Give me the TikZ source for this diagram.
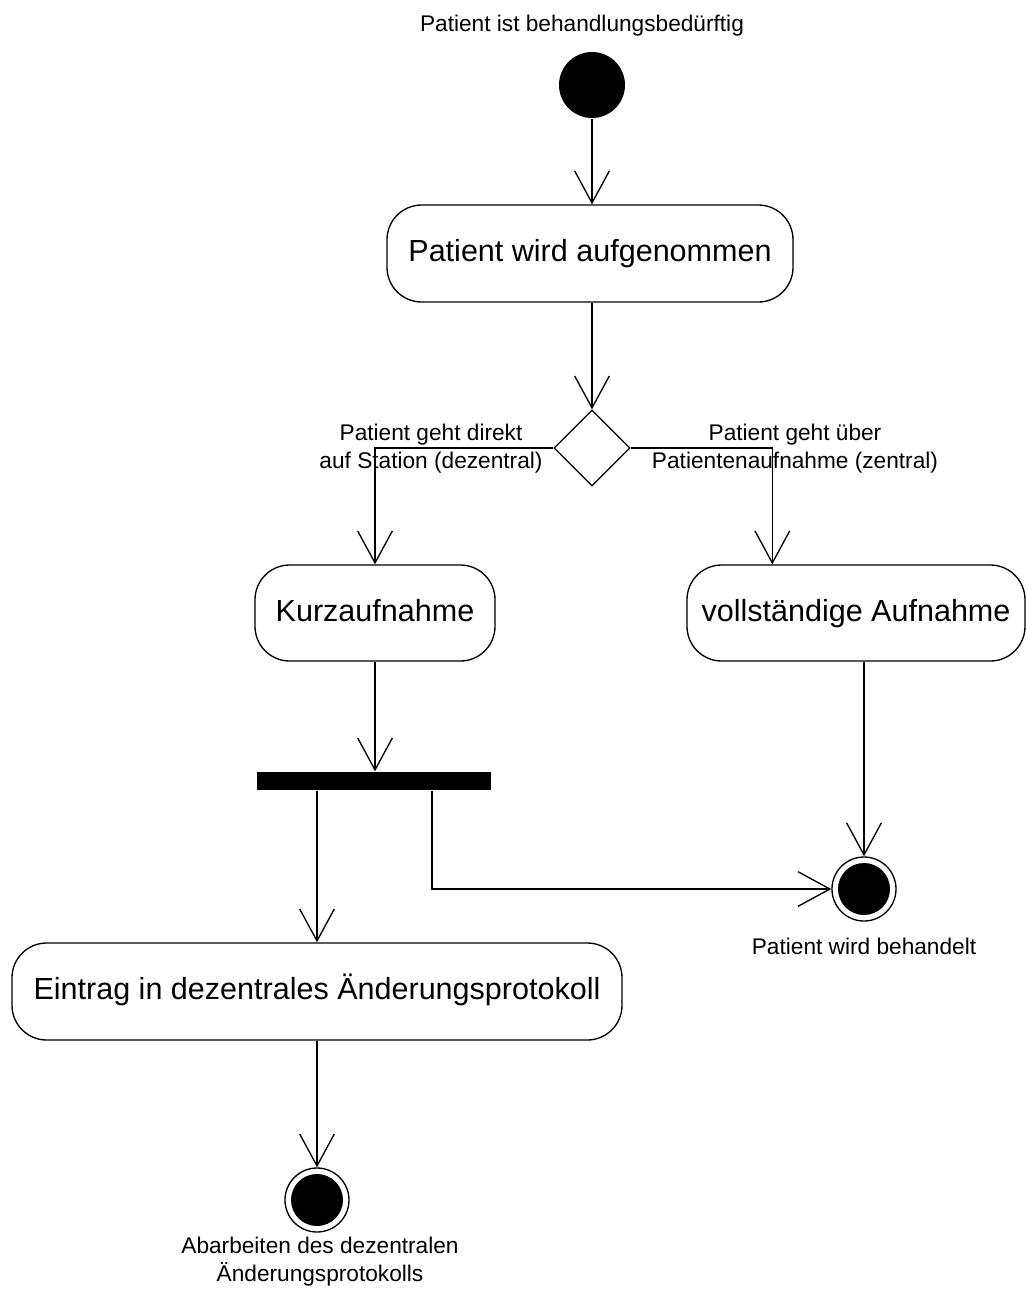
\documentclass[tikz,border=0pt]{standalone}
\usepackage{fontspec}
\setmainfont{Liberation Sans}
\usetikzlibrary{arrows.meta,shapes.geometric,calc}
\begin{document}
\begin{tikzpicture}[x=0.75pt,y=-0.75pt,
  line width=1pt,
  flow/.style={-{Straight Barb[length=24pt,width=26pt]}},
  act/.style={draw,rounded corners=26pt,inner sep=0pt,align=center,
    text height=16.5pt,text depth=4.5pt,
    font=\fontsize{22.9pt}{27pt}\selectfont},
  lbl/.style={inner sep=0pt,align=center,font=\fontsize{17pt}{21pt}\selectfont},
  startnode/.style={circle,fill=black,inner sep=0pt,minimum size=49.5pt},
  endnode/.style={circle,draw,inner sep=0pt,minimum size=48pt,
    path picture={\fill (path picture bounding box.center) circle (19.5pt);}},
]
\useasboundingbox (0,0) rectangle (1027,1289);

\node[lbl] (title) at (582,26) {Patient ist behandlungsbedürftig};
\node[startnode] (start) at (592,85) {};
\node[act,minimum width=304.5pt,minimum height=72.75pt] (aufn) at (590,253.5) {Patient wird aufgenommen};
\node[draw,diamond,inner sep=0pt,minimum width=57pt,minimum height=57pt] (dia) at (592,448) {};
\node[lbl] (ldez) at (431,449) {Patient geht direkt\\auf Station (dezentral)};
\node[lbl] (lzen) at (795,449) {Patient geht über\\Patientenaufnahme (zentral)};
\node[act,minimum width=180pt,minimum height=72pt] (kurz) at (375,613) {Kurzaufnahme};
\node[act,minimum width=253.5pt,minimum height=72pt] (voll) at (856,613) {vollständige Aufnahme};
\node[fill=black,inner sep=0pt,minimum width=175.5pt,minimum height=13.5pt] (bar) at (374,781) {};
\node[endnode] (f1) at (864,889) {};
\node[lbl] (lf1) at (864,946) {Patient wird behandelt};
\node[act,minimum width=457.5pt,minimum height=72.75pt] (eintr) at (317,991.5) {Eintrag in dezentrales Änderungsprotokoll};
\node[endnode] (f2) at (317,1200) {};
\node[lbl] (lf2) at (320,1262) {Abarbeiten des dezentralen\\Änderungsprotokolls};

\draw[flow] (start) -- (aufn.north -| start);
\draw[flow] (aufn.south -| dia.north) -- (dia.north);
\draw[flow] (dia.west) -| (kurz.north);
\draw[flow] (dia.east) -| ($(voll.north west)+(86,0)$);
\draw[flow] (kurz.south) -- (kurz.south |- bar.north);
\draw[flow] (eintr.north |- bar.south) -- (eintr.north);
\draw[flow] ($(bar.south)+(58,0)$) |- (f1.west);
\draw[flow] (f1.north |- voll.south) -- (f1.north);
\draw[flow] (eintr.south) -- (f2.north);
\end{tikzpicture}
\end{document}
